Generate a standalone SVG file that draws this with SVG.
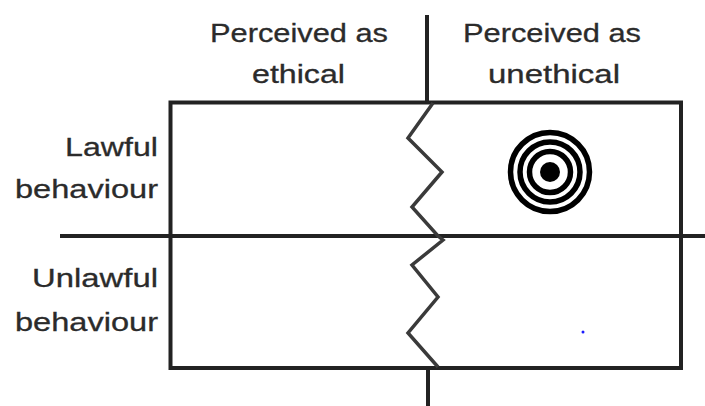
<svg xmlns="http://www.w3.org/2000/svg" width="705" height="406" viewBox="0 0 705 406">
  <style>
    .lbl { font-family: "Liberation Sans", Arial, sans-serif; font-size: 26px; fill: #2b2b2b; stroke: #2b2b2b; stroke-width: 0.3; }
    .mid { text-anchor: middle; }
    .end { text-anchor: end; }
    .rule { stroke: #222; stroke-width: 4; fill: none; }
    .zig { stroke: #3a3a3a; stroke-width: 3.5; fill: none; stroke-linejoin: miter; }
    .ring { stroke: #000; stroke-width: 5.5; fill: none; }
  </style>
  <rect width="705" height="406" fill="#fff"/>

  <!-- column headings -->
  <g id="col-ethical">
    <text class="lbl mid" x="299" y="42" textLength="178" lengthAdjust="spacingAndGlyphs">Perceived as</text>
    <text class="lbl mid" x="298.5" y="83" textLength="93" lengthAdjust="spacingAndGlyphs">ethical</text>
  </g>
  <g id="col-unethical">
    <text class="lbl mid" x="552" y="42" textLength="178" lengthAdjust="spacingAndGlyphs">Perceived as</text>
    <text class="lbl mid" x="554" y="83" textLength="132" lengthAdjust="spacingAndGlyphs">unethical</text>
  </g>

  <!-- row headings -->
  <g id="row-lawful">
    <text class="lbl end" x="158" y="156" textLength="93" lengthAdjust="spacingAndGlyphs">Lawful</text>
    <text class="lbl end" x="158" y="198" textLength="143" lengthAdjust="spacingAndGlyphs">behaviour</text>
  </g>
  <g id="row-unlawful">
    <text class="lbl end" x="158" y="287" textLength="126" lengthAdjust="spacingAndGlyphs">Unlawful</text>
    <text class="lbl end" x="158" y="331" textLength="143" lengthAdjust="spacingAndGlyphs">behaviour</text>
  </g>

  <!-- grid frame and dividers -->
  <g id="grid">
    <rect class="rule" x="170.5" y="102.5" width="510.5" height="265.5"/>
    <line class="rule" x1="60" y1="236" x2="705" y2="236"/>
    <line class="rule" x1="427" y1="15" x2="427" y2="102.5"/>
    <line class="rule" x1="428" y1="368" x2="428" y2="406"/>
    <!-- blurred boundary between ethical and unethical -->
    <polyline class="zig" points="433,103 408,138 442,172 412,207 438,236 443,240 412,265 438,297 408,333 438,367"/>
  </g>

  <!-- target marker in lawful / unethical cell -->
  <g id="target">
    <circle class="ring" cx="550" cy="172" r="39.5"/>
    <circle class="ring" cx="550" cy="172" r="30"/>
    <circle class="ring" cx="550" cy="172" r="20.5"/>
    <circle cx="550" cy="172" r="10" fill="#000"/>
  </g>

  <circle cx="583" cy="332" r="1.5" fill="#1a1aff"/>
</svg>
